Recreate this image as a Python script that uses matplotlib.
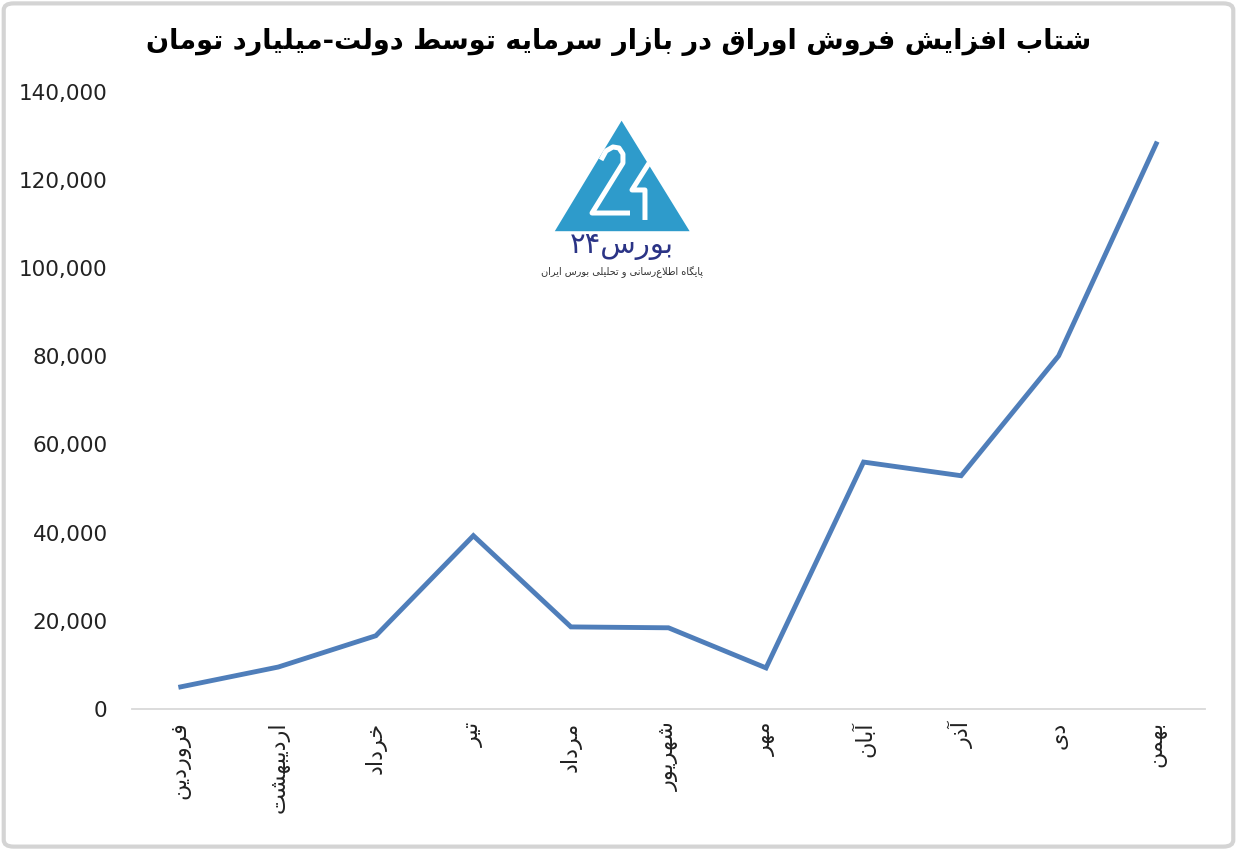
import matplotlib
matplotlib.use("Agg")
import matplotlib.pyplot as plt
from matplotlib.patches import Polygon, FancyBboxPatch
from matplotlib.ticker import FuncFormatter

# data (billion toman)
months = ['فروردین', 'اردیبهشت', 'خرداد', 'تیر', 'مرداد', 'شهریور',
          'مهر', 'آبان', 'آذر', 'دی', 'بهمن']
values = [5000, 9500, 16600, 39300, 18600, 18400, 9300, 56000, 52900, 80100, 128200]
title = 'شتاب افزایش فروش اوراق در بازار سرمایه توسط دولت-میلیارد تومان'
logo_name = 'بورس۲۴'
logo_sub = 'پایگاه اطلاع\u200cرسانی و تحلیلی بورس ایران'

# minimal arabic/persian shaping: (isolated, final, initial, medial)
FORMS = {
    'ء': (0xFE80,), 'آ': (0xFE81, 0xFE82), 'أ': (0xFE83, 0xFE84), 'ا': (0xFE8D, 0xFE8E),
    'ب': (0xFE8F, 0xFE90, 0xFE91, 0xFE92), 'ت': (0xFE95, 0xFE96, 0xFE97, 0xFE98),
    'ث': (0xFE99, 0xFE9A, 0xFE9B, 0xFE9C), 'ج': (0xFE9D, 0xFE9E, 0xFE9F, 0xFEA0),
    'ح': (0xFEA1, 0xFEA2, 0xFEA3, 0xFEA4), 'خ': (0xFEA5, 0xFEA6, 0xFEA7, 0xFEA8),
    'د': (0xFEA9, 0xFEAA), 'ذ': (0xFEAB, 0xFEAC), 'ر': (0xFEAD, 0xFEAE), 'ز': (0xFEAF, 0xFEB0),
    'ژ': (0xFB8A, 0xFB8B),
    'س': (0xFEB1, 0xFEB2, 0xFEB3, 0xFEB4), 'ش': (0xFEB5, 0xFEB6, 0xFEB7, 0xFEB8),
    'ص': (0xFEB9, 0xFEBA, 0xFEBB, 0xFEBC), 'ض': (0xFEBD, 0xFEBE, 0xFEBF, 0xFEC0),
    'ط': (0xFEC1, 0xFEC2, 0xFEC3, 0xFEC4), 'ظ': (0xFEC5, 0xFEC6, 0xFEC7, 0xFEC8),
    'ع': (0xFEC9, 0xFECA, 0xFECB, 0xFECC), 'غ': (0xFECD, 0xFECE, 0xFECF, 0xFED0),
    'ف': (0xFED1, 0xFED2, 0xFED3, 0xFED4), 'ق': (0xFED5, 0xFED6, 0xFED7, 0xFED8),
    'ک': (0xFB8E, 0xFB8F, 0xFB90, 0xFB91), 'گ': (0xFB92, 0xFB93, 0xFB94, 0xFB95),
    'ل': (0xFEDD, 0xFEDE, 0xFEDF, 0xFEE0), 'م': (0xFEE1, 0xFEE2, 0xFEE3, 0xFEE4),
    'ن': (0xFEE5, 0xFEE6, 0xFEE7, 0xFEE8), 'ه': (0xFEE9, 0xFEEA, 0xFEEB, 0xFEEC),
    'و': (0xFEED, 0xFEEE), 'ی': (0xFBFC, 0xFBFD, 0xFBFE, 0xFBFF),
    'پ': (0xFB56, 0xFB57, 0xFB58, 0xFB59), 'چ': (0xFB7A, 0xFB7B, 0xFB7C, 0xFB7D),
}
LAMALEF = {'ا': (0xFEFB, 0xFEFC), 'آ': (0xFEF5, 0xFEF6)}


def joins_fwd(c):
    return c in FORMS and len(FORMS[c]) == 4


def fa(text):
    chars = list(text)
    out = []
    i = 0
    while i < len(chars):
        c = chars[i]
        if c == '\u200c':
            i += 1
            continue
        prev = chars[i - 1] if i > 0 else ''
        link_prev = joins_fwd(prev) and c in FORMS and len(FORMS[c]) > 1
        if c == 'ل' and i + 1 < len(chars) and chars[i + 1] in LAMALEF:
            f = LAMALEF[chars[i + 1]]
            out.append(chr(f[1] if link_prev else f[0]))
            i += 2
            continue
        if c not in FORMS:
            out.append(c)
            i += 1
            continue
        nxt = chars[i + 1] if i + 1 < len(chars) else ''
        link_next = joins_fwd(c) and nxt in FORMS and len(FORMS[nxt]) > 1
        f = FORMS[c]
        if link_prev and link_next:
            g = f[3]
        elif link_prev:
            g = f[1]
        elif link_next:
            g = f[2]
        else:
            g = f[0]
        out.append(chr(g))
        i += 1
    # visual order: reverse, but keep digit runs left-to-right
    vis = ''.join(out[::-1])
    res, run = '', ''
    for ch in vis:
        if ch.isdigit():
            run += ch
        else:
            res += run[::-1] + ch
            run = ''
    return res + run[::-1]


plt.rcParams['font.family'] = ['DejaVu Sans']

fig = plt.figure(figsize=(12.37, 8.5), dpi=100)
ax = fig.add_axes([0.1067, 0.166, 0.8674, 0.726])

x = list(range(len(values)))
ax.plot(x, values, color='#4F7EBA', linewidth=3.5, solid_joinstyle='miter')

ax.set_xlim(-0.5, len(values) - 0.5)
ax.set_ylim(0, 140000)
ax.set_yticks(range(0, 140001, 20000))
ax.yaxis.set_major_formatter(FuncFormatter(lambda v, p: f'{int(v):,}'))
ax.set_xticks(x)
ax.set_xticklabels([fa(m) for m in months], rotation=90, va='top')

for s in ['top', 'right', 'left']:
    ax.spines[s].set_visible(False)
ax.spines['bottom'].set_color('#D9D9D9')
ax.spines['bottom'].set_linewidth(1.3)
ax.tick_params(axis='both', length=0, colors='#222222')
ax.tick_params(axis='y', pad=17.5, labelsize=15.5)
ax.tick_params(axis='x', pad=9, labelsize=16)

fig.text(0.5, 0.951, fa(title), ha='center', va='center', fontsize=19.5,
         fontweight='bold', color='black')

# logo
tri = Polygon([[0.4485, 0.728], [0.5025, 0.858], [0.5575, 0.728]], closed=True,
              transform=fig.transFigure, facecolor='#2E9BCB', edgecolor='none')
fig.patches.append(tri)
two = [(0.4859, 0.8118), (0.4899, 0.8224), (0.4955, 0.8271), (0.5004, 0.8259),
       (0.5036, 0.8188), (0.5036, 0.8082), (0.4786, 0.7494), (0.5093, 0.7494)]
four = [(0.5247, 0.8082), (0.5109, 0.7765), (0.5214, 0.7765), (0.5214, 0.7412)]
for pts in (two, four):
    fig.lines.append(plt.Line2D([p[0] for p in pts], [p[1] for p in pts],
                                transform=fig.transFigure, color='white',
                                linewidth=3.6, solid_joinstyle='round',
                                solid_capstyle='butt'))
fig.text(0.5025, 0.710, fa(logo_name), ha='center', va='center', fontsize=21,
         color='#2B3486')
fig.text(0.5025, 0.680, fa(logo_sub), ha='center', va='center', fontsize=7,
         color='#333333')

border = FancyBboxPatch((0.003, 0.004), 0.994, 0.992, boxstyle='round,pad=0,rounding_size=0.008',
                        transform=fig.transFigure, facecolor='none',
                        edgecolor='#D4D4D4', linewidth=3)
fig.patches.append(border)

fig.savefig('out.png', dpi=100, facecolor='white')
